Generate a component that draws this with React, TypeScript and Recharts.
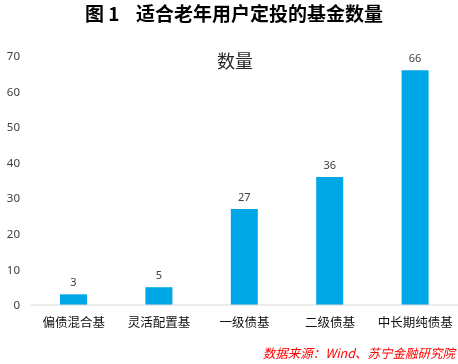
import { Bar, BarChart, LabelList, XAxis, YAxis } from "recharts";

const CATEGORIES = ["偏债混合基", "灵活配置基", "一级债基", "二级债基", "中长期纯债基"];
const COUNTS = [3, 5, 27, 36, 66];
const Y_TICKS = [0, 10, 20, 30, 40, 50, 60, 70];

const FONT = '"Noto Sans", "Noto Sans CJK SC", sans-serif';
const CJK = '"Noto Sans CJK SC", sans-serif';

const data = CATEGORIES.map((name, i) => ({ name, count: COUNTS[i] }));

export default function App() {
  return (
    <div style={{ position: "fixed", left: 0, top: 0, width: 458, height: 364, background: "#fff", fontFamily: CJK }}>
      <span style={{ position: "absolute", left: 85, top: 3, fontSize: 19, lineHeight: 1, fontWeight: 700, color: "#000", whiteSpace: "pre" }}>
        图 1
      </span>
      <span style={{ position: "absolute", left: 136, top: 3, fontSize: 19, lineHeight: 1, fontWeight: 700, color: "#000", whiteSpace: "pre" }}>
        适合老年用户定投的基金数量
      </span>
      <span style={{ position: "absolute", left: 217, top: 51, fontSize: 18, lineHeight: 1, color: "#262626" }}>数量</span>
      <BarChart width={458} height={364} data={data} margin={{ top: 56, right: 0, bottom: 29, left: 0 }}>
        <XAxis
          dataKey="name"
          height={30}
          tickLine={false}
          axisLine={{ stroke: "#d9d9d9" }}
          tickMargin={7}
          interval={0}
          tick={{ fill: "#111", fontSize: 12.5, fontFamily: CJK }}
        />
        <YAxis
          width={31}
          domain={[0, 70]}
          ticks={Y_TICKS}
          axisLine={false}
          tickLine={false}
          tickSize={0}
          tickMargin={11}
          tick={{ fill: "#404040", fontSize: 11.5, fontFamily: FONT }}
        />
        <Bar dataKey="count" fill="#00A7E6" barSize={27} isAnimationActive={false}>
          <LabelList dataKey="count" position="top" offset={8} style={{ fill: "#404040", fontSize: 11, fontFamily: FONT }} />
        </Bar>
      </BarChart>
      <span style={{ position: "absolute", right: 3, top: 347, fontSize: 12.5, lineHeight: 1, fontStyle: "italic", color: "#ff0000", whiteSpace: "pre" }}>
        数据来源：Wind、苏宁金融研究院
      </span>
    </div>
  );
}
